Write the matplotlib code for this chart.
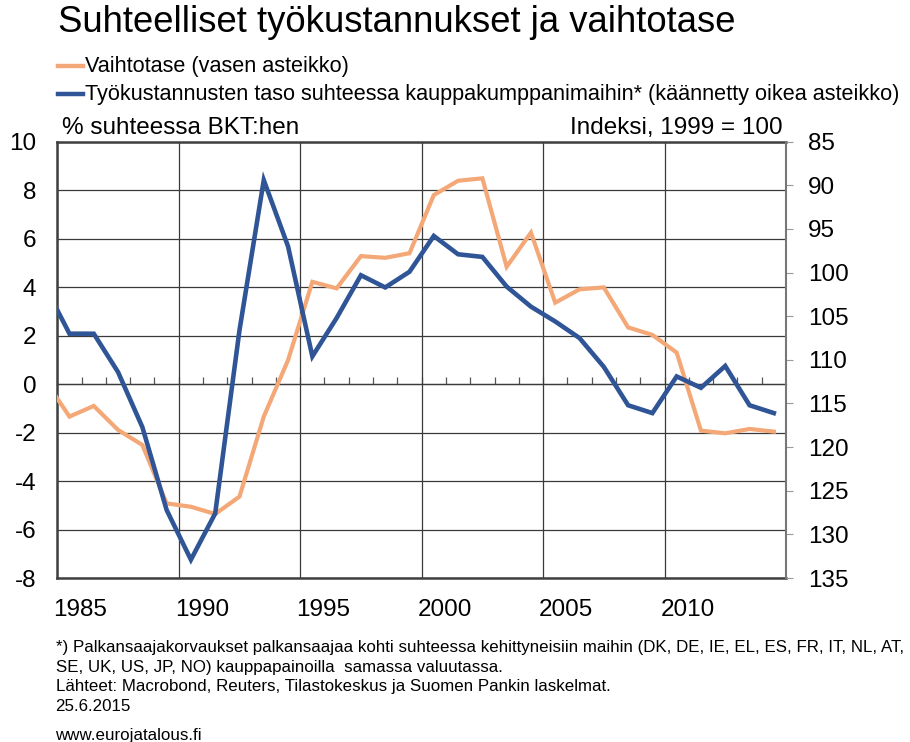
import numpy as np
import matplotlib
matplotlib.use("Agg")
import matplotlib.pyplot as plt
import matplotlib.transforms as mtrans

plt.rcParams['font.family'] = ['Liberation Sans Narrow', 'Liberation Sans', 'DejaVu Sans']

# vuosittaiset havainnot (piirretään vuoden puoliväliin)
years = np.arange(1984, 2015)
vaihtotase = [0.15, -1.34, -0.90, -1.89, -2.51, -4.92, -5.06, -5.36, -4.64, -1.34,
              0.99, 4.22, 3.95, 5.28, 5.21, 5.40, 7.80, 8.39, 8.49, 4.84,
              6.25, 3.36, 3.91, 3.99, 2.34, 2.03, 1.30, -1.92, -2.03, -1.85, -1.96]
tyokustannukset = [101.6, 107.0, 107.0, 111.4, 117.7, 127.2, 132.9, 127.6, 106.6, 89.4,
                   97.0, 109.6, 105.2, 100.3, 101.7, 99.9, 95.8, 97.9, 98.2, 101.6,
                   103.9, 105.6, 107.5, 110.8, 115.2, 116.1, 111.9, 113.2, 110.7, 115.2, 116.1]

x_labels = [1985, 1990, 1995, 2000, 2005, 2010]
left_ticks = np.arange(-8, 11, 2)
right_ticks = np.arange(85, 136, 5)

orange = '#F4A877'
blue = '#2F5597'
grid_c = '#3a3a3a'

fig = plt.figure(figsize=(9.1, 7.42), dpi=100)
ax = fig.add_axes([0.063, 0.221, 0.8007, 0.588])
ax2 = ax.twinx()

xs = years + 0.5
ax.plot(xs, vaihtotase, color=orange, lw=3.0, solid_joinstyle='miter', zorder=3)
ax2.plot(xs, tyokustannukset, color=blue, lw=3.3, solid_joinstyle='miter', zorder=4)

ax.set_xlim(1985, 2015)
ax.set_ylim(-8, 10)
ax2.set_ylim(135, 85)

ax.set_yticks(left_ticks)
ax.set_yticklabels([str(v) for v in left_ticks])
ax.set_xticks(x_labels)
ax.set_xticklabels([str(v) for v in x_labels], ha='left')
ax.tick_params(axis='x', length=0, labelsize=17.5, pad=15)
ax.tick_params(axis='y', length=0, labelsize=17.5, pad=15)
# vuosiluvut hieman vasemmalle gridiviivasta
off = mtrans.ScaledTranslation(-4 / 100, 0, fig.dpi_scale_trans)
for lbl in ax.get_xticklabels():
    lbl.set_transform(lbl.get_transform() + off)

ax2.set_yticks(right_ticks)
ax2.set_yticklabels([str(v) for v in right_ticks])
ax2.tick_params(axis='y', length=5, color='#999999', labelsize=17.5, pad=11)

ax.grid(True, color=grid_c, lw=0.9)
ax.set_axisbelow(True)
for s in ['left', 'bottom', 'top']:
    ax.spines[s].set_color('#404040')
    ax.spines[s].set_linewidth(1.8)
ax.spines['right'].set_visible(False)
for s in ['left', 'bottom', 'top']:
    ax2.spines[s].set_visible(False)
ax2.spines['right'].set_color('#777777')
ax2.spines['right'].set_linewidth(1.5)

# nollataso pienine vuosimerkkeineen
sec = ax.secondary_xaxis(8 / 18)
sec.set_xticks(np.arange(1986, 2015))
sec.set_xticklabels([])
sec.tick_params(direction='in', length=5, color='#555555', width=0.9)
sec.spines['bottom'].set_color(grid_c)
sec.spines['bottom'].set_linewidth(0.9)

# otsikko, selitteet ja yksiköt
fig.text(0.064, 0.970, 'Suhteelliset työkustannukset ja vaihtotase', fontsize=26.3,
         va='center', ha='left')
leg_items = [('Vaihtotase (vasen asteikko)', orange),
             ('Työkustannusten taso suhteessa kauppakumppanimaihin* (käännetty oikea asteikko)', blue)]
for i, (txt, c) in enumerate(leg_items):
    yy = 0.911 - i * 0.038
    fig.add_artist(plt.Line2D([0.064, 0.091], [yy, yy], color=c, lw=3.2, transform=fig.transFigure))
    fig.text(0.093, yy, txt, fontsize=15.6, va='center', ha='left')

fig.text(0.068, 0.828, '% suhteessa BKT:hen', fontsize=17.5, va='center', ha='left')
fig.text(0.860, 0.828, 'Indeksi, 1999 = 100', fontsize=17.5, va='center', ha='right')

notes = ['*) Palkansaajakorvaukset palkansaajaa kohti suhteessa kehittyneisiin maihin (DK, DE, IE, EL, ES, FR, IT, NL, AT,',
         'SE, UK, US, JP, NO) kauppapainoilla  samassa valuutassa.',
         'Lähteet: Macrobond, Reuters, Tilastokeskus ja Suomen Pankin laskelmat.',
         '25.6.2015']
for i, n in enumerate(notes):
    fig.text(0.061, 0.127 - i * 0.0263, n, fontsize=12.2, va='center', ha='left')
fig.text(0.061, 0.0094, 'www.eurojatalous.fi', fontsize=12.2, va='center', ha='left')

fig.savefig('out.png', dpi=100)
